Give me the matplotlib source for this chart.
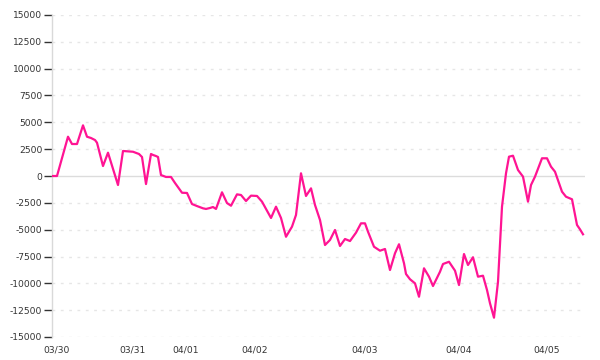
import matplotlib
matplotlib.use("Agg")
import matplotlib.pyplot as plt
import numpy as np

# position along the time axis (chart units) and the plotted value
t = [53, 57, 68, 72, 77, 83, 87, 91, 95, 97, 103, 108, 118, 123, 133, 139, 142, 146,
     151, 153, 156, 158, 161, 166, 171, 175, 182, 187, 192, 197, 203, 206, 210, 213,
     216, 222, 227, 231, 237, 241, 246, 251, 257, 262, 271, 276, 281, 286, 292, 296,
     301, 306, 311, 315, 320, 325, 330, 335, 340, 345, 350, 356, 361, 365, 368, 374,
     380, 385, 390, 395, 399, 404, 406, 410, 415, 419, 424, 429, 433, 440, 443, 449,
     455, 459, 464, 468, 473, 478, 483, 487, 490, 494, 498, 502, 506, 509, 513, 518,
     523, 528, 531, 535, 542, 547, 551, 555, 562, 566, 572, 577, 580, 583]
values = [0, 0, 3660, 2980, 2980, 4720, 3660, 3540, 3350, 3100, 930, 2170, -840, 2330,
          2260, 2050, 1770, -750, 2050, 1960, 1860, 1770, 90, -90, -90, -650, -1560,
          -1580, -2610, -2800, -3010, -3070, -2980, -2890, -3070, -1520, -2520, -2770,
          -1710, -1770, -2330, -1830, -1860, -2390, -3910, -2860, -3910, -5660, -4720,
          -3630, 250, -1860, -1150, -2700, -4100, -6430, -5960, -5030, -6520, -5870,
          -6060, -5280, -4410, -4410, -5190, -6590, -6960, -6800, -8760, -7200, -6360,
          -8130, -9130, -9620, -10000, -11250, -8600, -9380, -10250, -8920, -8200, -7990,
          -8820, -10160, -7270, -8290, -7570, -9380, -9290, -10620, -11860, -13200,
          -9850, -2860, 250, 1800, 1890, 560, -60, -2390, -840, -60, 1650, 1650, 870,
          400, -1460, -1930, -2170, -4560, -4970, -5430]

day_pos = [57, 132, 186, 255, 365, 459, 547]
day_labels = ["03/30", "03/31", "04/01", "04/02", "04/03", "04/04", "04/05"]
yticks = list(range(-15000, 15001, 2500))

fig = plt.figure(figsize=(6, 3.6), dpi=100)
ax = fig.add_axes([52/600, 1-337/360, (585-52)/600, (337-15)/360])

# grid
for v in yticks:
    if v == 0:
        ax.axhline(0, color="#dcdcdc", lw=1, zorder=1)
    else:
        ax.axhline(v, color="#e6e6e6", lw=1, ls=(0, (2, 4)), zorder=1)

ax.plot(t, values, color="#ff1493", lw=1.6, zorder=3)

ax.set_xlim(52, 585)
ax.set_ylim(-15000, 15000)
ax.set_yticks(yticks)
ax.set_yticklabels([str(v) for v in yticks])
ax.set_xticks(day_pos)
ax.set_xticklabels(day_labels)

for s in ["top", "right", "bottom"]:
    ax.spines[s].set_visible(False)
ax.spines["left"].set_color("#d9d9d9")
ax.spines["left"].set_linewidth(1)

ax.tick_params(axis="y", length=6, width=1, color="#333333", pad=1,
               labelsize=6.6, labelcolor="#333333")
ax.tick_params(axis="x", length=0, pad=6, labelsize=6.6, labelcolor="#333333")

fig.savefig("out.png", dpi=100)
